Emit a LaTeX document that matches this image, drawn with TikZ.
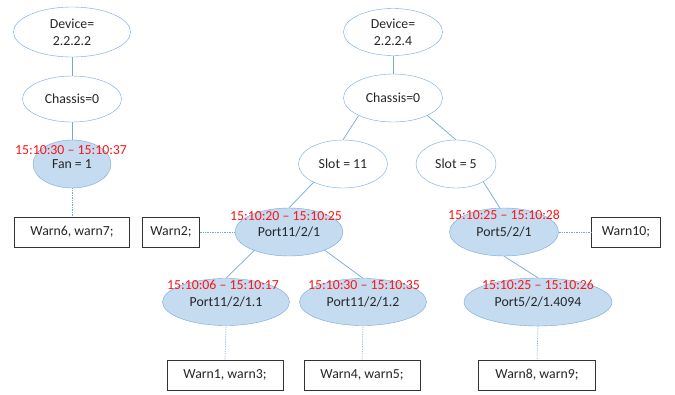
\documentclass[tikz,border=0pt]{standalone}
\usepackage{fontspec}
\setmainfont{Carlito}
\usetikzlibrary{shapes.geometric}

\definecolor{edgeblue}{RGB}{116,167,222}
\definecolor{fillblue}{RGB}{197,219,240}
\definecolor{stampred}{RGB}{255,20,20}

\begin{document}
\begin{tikzpicture}[x=1pt,y=-1pt,
  every node/.style={font=\fontsize{13.8}{17}\selectfont, text=black!85},
  elem/.style={ellipse, draw=edgeblue, fill=white, inner sep=0pt, align=center},
  busy/.style={elem, fill=fillblue},
  warnbox/.style={draw=black!80, fill=white, minimum height=30pt, inner sep=0pt},
  stamp/.style={text=stampred},
  link/.style={draw=edgeblue, line width=0.7pt},
  warnlink/.style={link, densely dotted}]

\useasboundingbox (0,0) rectangle (675,394);

% device 2.2.2.2
\node[elem, minimum width=117pt, minimum height=50pt] (dev2) at (72,32) {Device=\\2.2.2.2};
\node[elem, minimum width=99pt, minimum height=46pt] (chas2) at (72,99) {Chassis=0};
\node[busy, minimum width=78pt, minimum height=48pt] (fan) at (72,164) {Fan = 1};
\node[warnbox, minimum width=115pt] (w67) at (72,232) {Warn6, warn7;};

\draw[link] (dev2.south) -- (chas2.north);
\draw[link] (chas2.south) -- (fan.north);
\draw[warnlink] (fan.south) -- (w67.north);

% device 2.2.2.4
\node[elem, minimum width=99pt, minimum height=47pt] (dev4) at (393,32) {Device=\\2.2.2.4};
\node[elem, minimum width=99pt, minimum height=48pt] (chas4) at (393,98) {Chassis=0};
\node[elem, minimum width=89pt, minimum height=48pt] (slot11) at (343,164) {Slot = 11};
\node[elem, minimum width=80pt, minimum height=48pt] (slot5) at (456,164) {Slot = 5};

\node[busy, minimum width=108pt, minimum height=48pt] (p1121) at (289,232) {Port11/2/1};
\node[warnbox, minimum width=57pt] (w2) at (171,232) {Warn2;};
\node[busy, minimum width=127pt, minimum height=47pt] (p11211) at (226,302) {Port11/2/1.1};
\node[busy, minimum width=127pt, minimum height=47pt] (p11212) at (363,302) {Port11/2/1.2};
\node[warnbox, minimum width=116pt] (w13) at (225,375) {Warn1, warn3;};
\node[warnbox, minimum width=116pt] (w45) at (362,375) {Warn4, warn5;};

\node[busy, minimum width=109pt, minimum height=48pt] (p521) at (504,232) {Port5/2/1};
\node[warnbox, minimum width=69pt] (w10) at (626,232) {Warn10;};
\node[busy, minimum width=148pt, minimum height=48pt] (p5214) at (538,302) {Port5/2/1.4094};
\node[warnbox, minimum width=117pt] (w89) at (537,375) {Warn8, warn9;};

\draw[link] (dev4.south) -- (chas4.north);
\draw[link] (chas4.207) -- (slot11.north);
\draw[link] (chas4.333) -- (slot5.north);
\draw[link] (slot11.212) -- (p1121.north);
\draw[link] (slot5.-33) -- (p521.100);
\draw[link] (p1121.208) -- (p11211.north);
\draw[link] (p1121.333) -- (p11212.north);
\draw[link] (p521.south) -- (p5214.north);

\draw[warnlink] (w2.east) -- (p1121.west);
\draw[warnlink] (p521.east) -- (w10.west);
\draw[warnlink] (p11211.south) -- (w13.north);
\draw[warnlink] (p11212.south) -- (w45.north);
\draw[warnlink] (p5214.south) -- (w89.north);

% alarm time spans
\node[stamp] (tfan) at (71,150) {15:10:30 -- 15:10:37};
\node[stamp] (tp1121) at (286,216) {15:10:20 -- 15:10:25};
\node[stamp] (tp11211) at (223,285) {15:10:06 -- 15:10:17};
\node[stamp] (tp11212) at (364,285) {15:10:30 -- 15:10:35};
\node[stamp] (tp521) at (504,215) {15:10:25 -- 15:10:28};
\node[stamp] (tp5214) at (538,285) {15:10:25 -- 15:10:26};

\end{tikzpicture}
\end{document}
